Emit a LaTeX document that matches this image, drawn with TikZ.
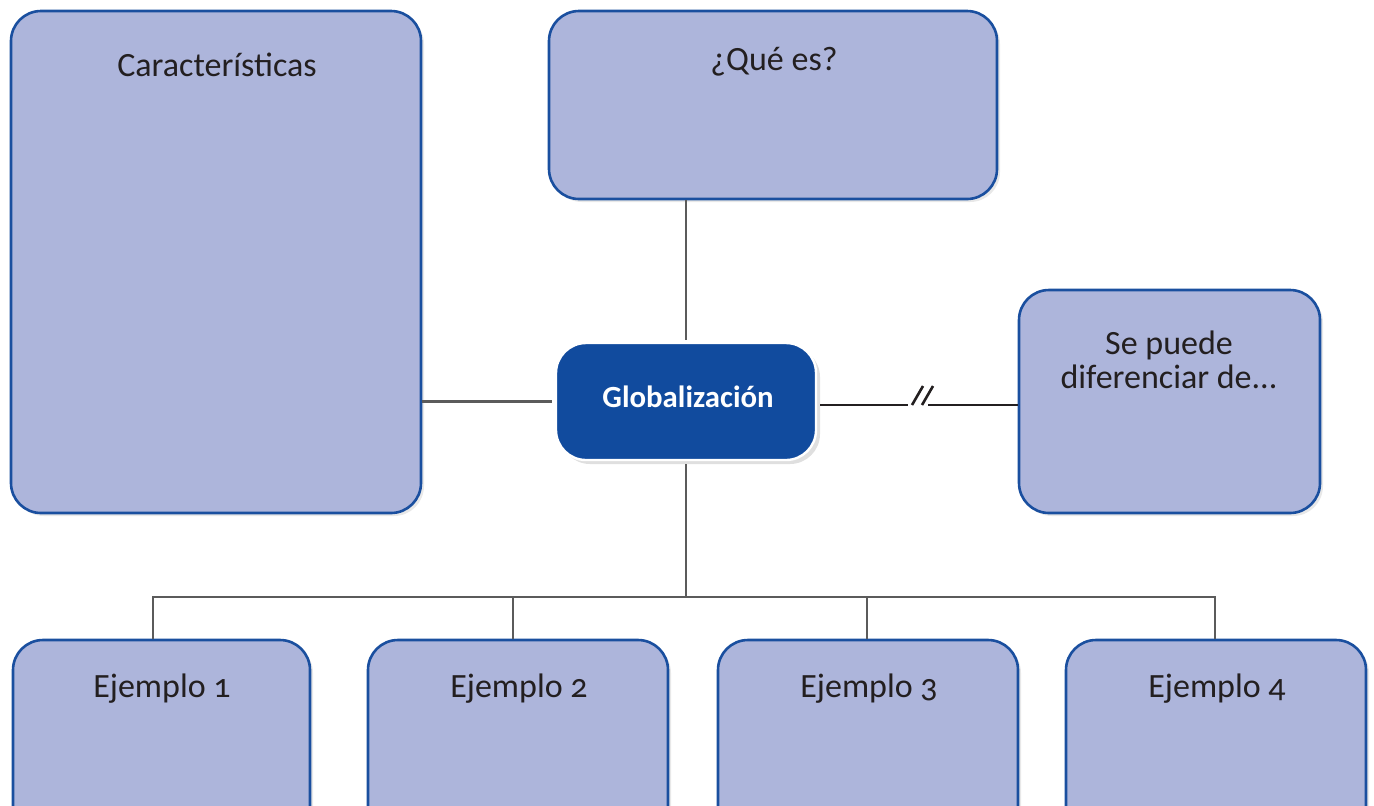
\documentclass[tikz,border=0pt]{standalone}
\usepackage{fontspec}
\setmainfont{Carlito}[Numbers=OldStyle]
\usetikzlibrary{shadows}
\definecolor{boxfill}{HTML}{ADB5DB}
\definecolor{boxline}{HTML}{1A4F9F}
\definecolor{globfill}{HTML}{114B9E}
\definecolor{conn}{HTML}{5B5B5B}
\definecolor{txt}{HTML}{231F20}
\tikzset{
  card/.style={draw=boxline, line width=1.3pt, fill=boxfill, rounded corners=15pt,
    inner sep=0pt, drop shadow={opacity=0.18, shadow xshift=1.5pt, shadow yshift=-1.5pt}},
  globbox/.style={draw=white, line width=1.2pt, fill=globfill, rounded corners=15pt,
    inner sep=0pt, minimum width=130pt, minimum height=58.5pt,
    drop shadow={opacity=0.25, shadow xshift=2pt, shadow yshift=-2pt}},
  lbl/.style={anchor=base, text=txt, font=\fontsize{17}{20}\selectfont, inner sep=0pt},
  connector/.style={draw=conn, line width=1.2pt},
  breakline/.style={draw=txt, line width=1.3pt},
}
\begin{document}
\begin{tikzpicture}[x=0.5pt,y=-0.5pt]
\useasboundingbox (0,0) rectangle (1374,805);
\clip (0,0) rectangle (1374,805);
% boxes
\node[card, minimum width=205pt, minimum height=251pt] (car) at (216,262) {};
\node[card, minimum width=224pt, minimum height=94pt] (que) at (773,105) {};
\node[card, minimum width=150.5pt, minimum height=111.5pt] (dif) at (1169.5,401.5) {};
\node[card, minimum width=148.5pt, minimum height=100pt] (e1) at (161.5,740) {};
\node[card, minimum width=150pt, minimum height=100pt] (e2) at (518,740) {};
\node[card, minimum width=150pt, minimum height=100pt] (e3) at (868,740) {};
\node[card, minimum width=150pt, minimum height=100pt] (e4) at (1216,740) {};
\node[globbox] (glob) at (686,401.5) {};
% texts
\node[lbl] (tcar) at (217,76) {Características};
\node[lbl] (tque) at (774,70) {¿Qué es?};
\node[lbl] (tdif1) at (1169,354) {Se puede};
\node[lbl] (tdif2) at (1169,388) {diferenciar de...};
\node[lbl] (te1) at (162,697) {Ejemplo 1};
\node[lbl] (te2) at (519,697) {Ejemplo 2};
\node[lbl] (te3) at (869,697) {Ejemplo 3};
\node[lbl] (te4) at (1217,697) {Ejemplo 4};
\node[anchor=base, text=white, inner sep=0pt, font=\bfseries\fontsize{15.4}{18}\selectfont] (tglob) at (688,407) {Globalización};
% connectors
\coordinate (bus) at (686,597);
\draw[connector] (que.south -| glob) -- ([yshift=1pt]glob.north);
\draw[connector] (car.east |- glob) -- ([xshift=-1.5pt]glob.west);
\draw[connector] ([yshift=-1.5pt]glob.south) -- (bus);
\draw[connector] (e1.north -| 153,0) |- (bus) -| (e4.north -| 1215,0);
\draw[connector] (bus -| 513,0) -- (e2.north -| 513,0);
\draw[connector] (bus -| 867,0) -- (e3.north -| 867,0);
% broken connector
\coordinate (b1) at (908,405);
\coordinate (b2) at (928,405);
\draw[breakline] ([xshift=1.5pt]glob.east |- b1) -- (b1);
\draw[breakline] (b2) -- (dif.west |- b2);
\draw[breakline] (912,405) -- (923,386);
\draw[breakline] (922,405) -- (933,386);
\end{tikzpicture}
\end{document}
